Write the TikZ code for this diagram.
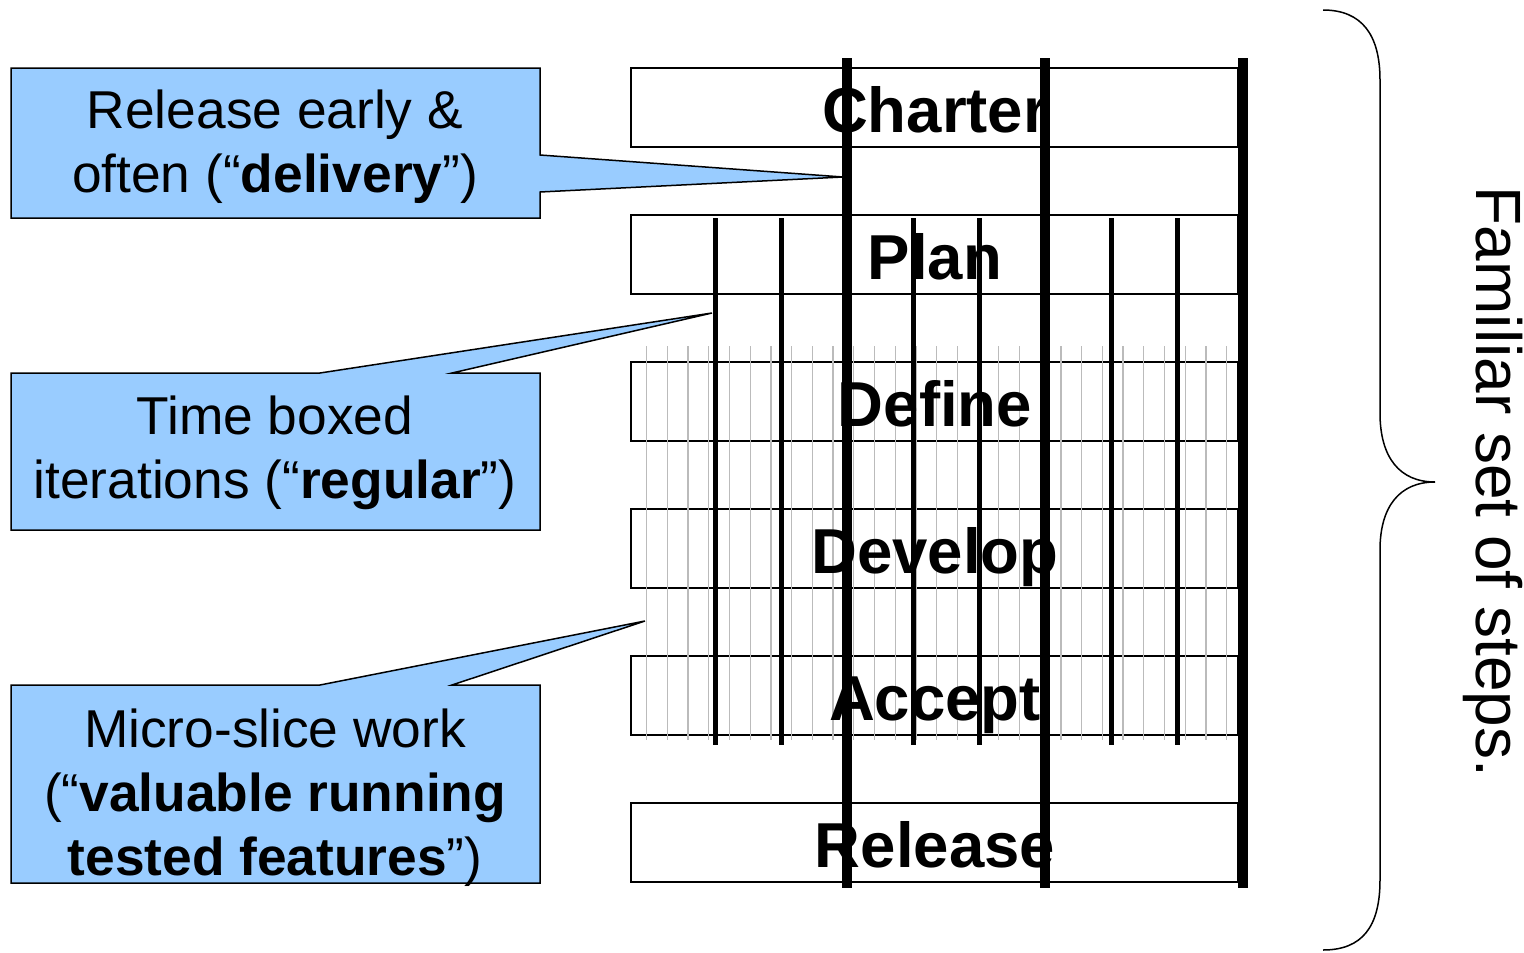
\documentclass[tikz,border=0pt]{standalone}
\usepackage{fontspec}
\setmainfont{Liberation Sans}
\definecolor{callblue}{HTML}{99CCFF}
\definecolor{thingray}{HTML}{BBBBBB}
\begin{document}
\begin{tikzpicture}[x=1pt,y=-1pt,
  stepbox/.style={draw=black,line width=1.6pt,fill=white},
  steplabel/.style={anchor=base,font=\fontsize{63.5}{70}\selectfont\bfseries,inner sep=0pt},
  callout/.style={draw=black,line width=1.5pt,fill=callblue},
  calltext/.style={align=center,font=\fontsize{53.3}{64}\selectfont,inner sep=0pt},
  thickline/.style={line width=10pt,black},
  midline/.style={line width=5pt,black},
  grayline/.style={line width=1.3pt,thingray}]
\useasboundingbox (0,0) rectangle (1524,953);
% step boxes
\foreach \n/\t in {charter/68,plan/215,define/362,develop/509,accept/656,release/803}{
  \draw[stepbox] (631,\t) rectangle (1238,\t+79);
}
% thin gray iteration lines
\foreach \i in {0,...,28}{
  \coordinate (g\i t) at (646.7+20.714*\i,346);
  \coordinate (g\i b) at (646.7+20.714*\i,740);
  \draw[grayline] (g\i t) -- (g\i b);
}
% step labels
\node[steplabel] (charter) at (935,132) {Charter};
\node[steplabel] (plan) at (935,279) {Plan};
\node[steplabel] (define) at (935,426) {Define};
\node[steplabel] (develop) at (935,573) {Develop};
\node[steplabel] (accept) at (935,720) {Accept};
\node[steplabel] (release) at (935,867) {Release};
% medium iteration lines
\foreach \x in {715,781,913,979,1111,1177}{
  \coordinate (m\x t) at (\x,218);
  \coordinate (m\x b) at (\x,745);
  \draw[midline] (m\x t) -- (m\x b);
}
% thick release lines
\foreach \x in {847,1045,1243}{
  \coordinate (r\x t) at (\x,58);
  \coordinate (r\x b) at (\x,888);
  \draw[thickline] (r\x t) -- (r\x b);
}
% callouts
\coordinate (tip1) at (843,177);
\coordinate (tip2) at (712,313);
\coordinate (tip3) at (645,621);
\draw[callout] (11,68) -- (540,68) -- (540,155) -- (tip1) -- (540,192) -- (540,218) -- (11,218) -- cycle;
\draw[callout] (11,373) -- (320,373) -- (tip2) -- (452,373) -- (540,373) -- (540,530) -- (11,530) -- cycle;
\draw[callout] (11,685) -- (320,685) -- (tip3) -- (452,685) -- (540,685) -- (540,883) -- (11,883) -- cycle;
\node[calltext] (c1) at (275,147) {Release early \&\\often (“\textbf{delivery}”)};
\node[calltext] (c2) at (275,453) {Time boxed\\iterations (“\textbf{regular}”)};
\node[calltext] (c3) at (275,798) {Micro-slice work\\(“\textbf{valuable running}\\\textbf{tested features}”)};
% brace
\draw[line width=1.5pt] (1323,10) .. controls (1362,10) and (1380,35) .. (1380,80) -- (1380,413)
  .. controls (1380,458) and (1400,482) .. (1435,482)
  .. controls (1400,482) and (1380,506) .. (1380,550) -- (1380,880)
  .. controls (1380,927) and (1362,950) .. (1323,950);
\node[rotate=-90,font=\fontsize{64}{70}\selectfont,inner sep=0pt] (fam) at (1493,482) {Familiar set of steps.};
\end{tikzpicture}
\end{document}
